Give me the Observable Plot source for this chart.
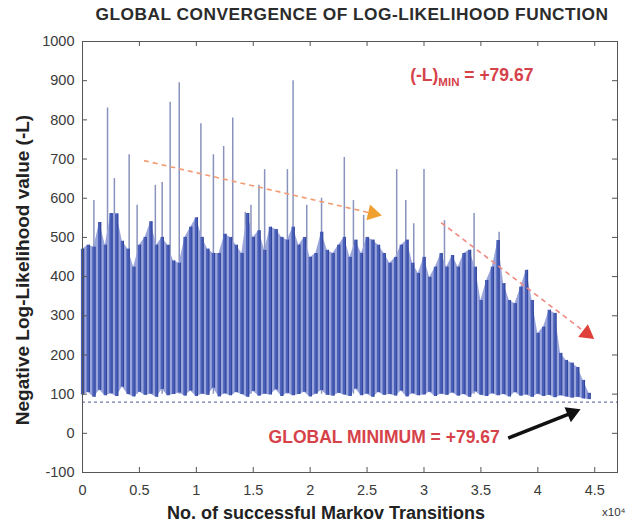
<!DOCTYPE html>
<html>
<head>
<meta charset="utf-8">
<script src="https://cdn.jsdelivr.net/npm/d3@7"></script>
<script src="https://cdn.jsdelivr.net/npm/@observablehq/plot@0.6"></script>
<style>
  html, body { margin: 0; padding: 0; background: #fff; }
  #wrap { position: relative; width: 626px; height: 528px; font-family: "Liberation Sans", Arial, sans-serif; }
  #title { position: absolute; left: 0; top: 4px; width: 704px; text-align: center; font-weight: bold; font-size: 17.3px; letter-spacing: 0.5px; color: #2b2b2b; white-space: nowrap; }
  #chart { position: absolute; left: 0; top: 28px; }
</style>
</head>
<body>
<div id="wrap">
  <div id="title">GLOBAL CONVERGENCE OF LOG-LIKELIHOOD FUNCTION</div>
  <div id="chart"></div>
</div>
<script>
// Markov-chain trace of -L, summarised every 500 successful transitions (x in units of 10^4)
const binStep = 0.05;
const traceHigh = [
  470, 480, 475, 538, 480, 561, 560, 490, 470, 424,
  480, 500, 540, 480, 500, 480, 440, 434, 500, 526,
  550, 500, 470, 459, 459, 508, 500, 480, 459, 561,
  500, 517, 467, 526, 520, 500, 493, 526, 480, 500,
  449, 459, 513, 467, 459, 480, 500, 449, 493, 459,
  500, 493, 480, 459, 434, 449, 480, 493, 434, 408,
  449, 398, 424, 459, 424, 454, 424, 459, 467, 424,
  339, 390, 424, 492, 382, 339, 331, 373, 416, 339,
  255, 271, 314, 306, 204, 186, 179, 168, 135, 102
];
const traceLow = [
  98, 104, 92, 110, 96, 101, 94, 118, 99, 93,
  105, 97, 100, 92, 112, 96, 99, 103, 95, 108,
  94, 100, 97, 115, 93, 101, 96, 104, 99, 92,
  107, 95, 100, 98, 111, 94, 102, 96, 99, 105,
  93, 100, 109, 97, 95, 102, 98, 94, 113, 96,
  100, 92, 104, 97, 99, 95, 108, 93, 101, 96,
  98, 105, 94, 100, 97, 103, 95, 99, 92, 106,
  97, 94, 101, 96, 99, 93, 104, 95, 98, 92,
  100, 94, 97, 91, 96, 93, 90, 92, 88, 86
];

// Isolated excursions of the chain (x in units of 10^4, peak -L)
const spikeAt = [0.10, 0.22, 0.28, 0.41, 0.48, 0.64, 0.70, 0.77, 0.85, 1.04,
                 1.15, 1.24, 1.32, 1.43, 1.48, 1.55, 1.60, 1.80, 1.85, 1.97,
                 2.10, 2.30, 2.38, 2.47, 2.76, 2.84, 2.91, 3.00, 3.18, 3.44, 3.66];
const spikePeak = [594, 830, 650, 711, 582, 633, 640, 845, 895, 790,
                   711, 732, 805, 564, 582, 633, 673, 673, 900, 582,
                   600, 704, 594, 556, 673, 594, 535, 673, 543, 561, 513];

const minNLL = 79.67;

// Axis ticks
const xTicks = [0, 0.5, 1, 1.5, 2, 2.5, 3, 3.5, 4, 4.5];
const yTicks = [-100, 0, 100, 200, 300, 400, 500, 600, 700, 800, 900, 1000];

// Trend arrows (dashed) and the pointer to the global minimum
const trendX1 = [0.54, 3.15];
const trendY1 = [696, 538];
const trendX2 = [2.55, 4.43];
const trendY2 = [561, 255];
const trendLine = ["#f39a72", "#f08a80"];
const trendHead = ["#f0a030", "#e0403a"];
const trendAngle = [103, 127];

const minLabel = "(-L)MIN = +79.67";

const bins = traceHigh.map((h, i) => ({x: i * binStep, hi: h, lo: traceLow[i]}));
const spikes = spikeAt.map((x, i) => ({x, hi: spikePeak[i], lo: 100}));
const trends = trendX1.map((x1, i) => ({x1, y1: trendY1[i], x2: trendX2[i], y2: trendY2[i],
  line: trendLine[i], head: trendHead[i], angle: trendAngle[i]}));
const pointer = [{x1: 3.74, y1: -12, x2: 4.3, y2: 52}];

const frameW = 626 - 82 - 9;
const frameH = 500 - 13 - 56;

const chart = Plot.plot({
  width: 626,
  height: 500,
  marginTop: 13,
  marginBottom: 56,
  marginLeft: 82,
  marginRight: 9,
  x: {domain: [0, 4.7]},
  y: {domain: [-100, 1000]},
  style: {fontFamily: "Liberation Sans, Arial, sans-serif", fontSize: "14px", color: "#3a3a3a", background: "white", overflow: "visible"},
  marks: [
    // excursions
    Plot.ruleX(spikes, {x: "x", y1: "lo", y2: "hi", stroke: "#8a93bd", strokeWidth: 1.5}),
    // bulk of the trace: light envelope, columns and darker cores
    Plot.areaY(bins, {x: "x", y1: "lo", y2: "hi", fill: "#9aa5dc"}),
    Plot.ruleX(bins, {x: "x", y1: "lo", y2: "hi", stroke: "#4a60b8", strokeWidth: 3.2}),
    Plot.ruleX(bins, {x: "x", y1: "lo", y2: "hi", dx: 1.2, stroke: "#31459c", strokeWidth: 1}),
    // global minimum level
    Plot.ruleY([minNLL], {stroke: "#4a5590", strokeDasharray: "3,3", strokeWidth: 1}),
    // trend arrows
    Plot.link(trends, {x1: "x1", y1: "y1", x2: "x2", y2: "y2", stroke: "line", strokeWidth: 1.6, strokeDasharray: "5,4"}),
    Plot.dot(trends, {x: "x2", y: "y2", symbol: "triangle", r: 6, fill: "head", stroke: "none", rotate: "angle"}),
    // pointer to the minimum
    Plot.link(pointer, {x1: "x1", y1: "y1", x2: "x2", y2: "y2", stroke: "#111", strokeWidth: 3.5}),
    Plot.dot(pointer, {x: "x2", y: "y2", symbol: "triangle", r: 6, fill: "#111", stroke: "none", rotate: 67}),
    // annotations
    Plot.text([{x: 2.65, y: -10}], {x: "x", y: "y", text: () => "GLOBAL MINIMUM = +79.67", fill: "#d6424a", fontWeight: "bold", fontSize: 17.5, letterSpacing: 0.4}),
    Plot.text([{x: 3.42, y: 913}], {x: "x", y: "y", text: () => minLabel, fill: "#d6424a", fontWeight: "bold", fontSize: 17.5}),
    // frame and inward ticks
    Plot.frame({stroke: "#555", strokeWidth: 1}),
    Plot.tickX(xTicks, {x: d => d, insetTop: frameH - 5, stroke: "#555"}),
    Plot.tickX(xTicks, {x: d => d, insetBottom: frameH - 5, stroke: "#555"}),
    Plot.tickY(yTicks, {y: d => d, insetRight: frameW - 5, stroke: "#555"}),
    Plot.tickY(yTicks, {y: d => d, insetLeft: frameW - 5, stroke: "#555"}),
    // tick labels
    Plot.axisX(xTicks, {tickSize: 0, tickPadding: 12, tickFormat: d => String(d), label: null, fontSize: 14.5}),
    Plot.axisY(yTicks, {tickSize: 0, tickPadding: 8, tickFormat: d => String(d), label: null, fontSize: 14.5}),
    // axis titles
    Plot.text(["Negative Log-Likelihood value (-L)"], {frameAnchor: "left", dx: -60, dy: 13, rotate: -90, textAnchor: "middle", text: d => d, fontWeight: "bold", fontSize: 19, fill: "#222"}),
    Plot.text(["No. of successful Markov Transitions"], {frameAnchor: "bottom", dx: -24, dy: 46, textAnchor: "middle", text: d => d, fontWeight: "bold", fontSize: 18, fill: "#222"}),
    Plot.text(["x10⁴"], {frameAnchor: "bottom-right", dx: 8, dy: 43, textAnchor: "end", text: d => d, fontSize: 11.5, fill: "#333"})
  ]
});

// subscript for the (-L)MIN label
const minText = Array.from(chart.querySelectorAll("text")).find(t => t.textContent === minLabel);
if (minText) {
  minText.textContent = "";
  const ns = "http://www.w3.org/2000/svg";
  const a = document.createElementNS(ns, "tspan");
  a.textContent = "(-L)";
  const b = document.createElementNS(ns, "tspan");
  b.textContent = "MIN";
  b.setAttribute("font-size", "11.5");
  b.setAttribute("dy", "5");
  const c = document.createElementNS(ns, "tspan");
  c.textContent = " = +79.67";
  c.setAttribute("dy", "-5");
  minText.append(a, b, c);
}

document.getElementById("chart").append(chart);
</script>
</body>
</html>
